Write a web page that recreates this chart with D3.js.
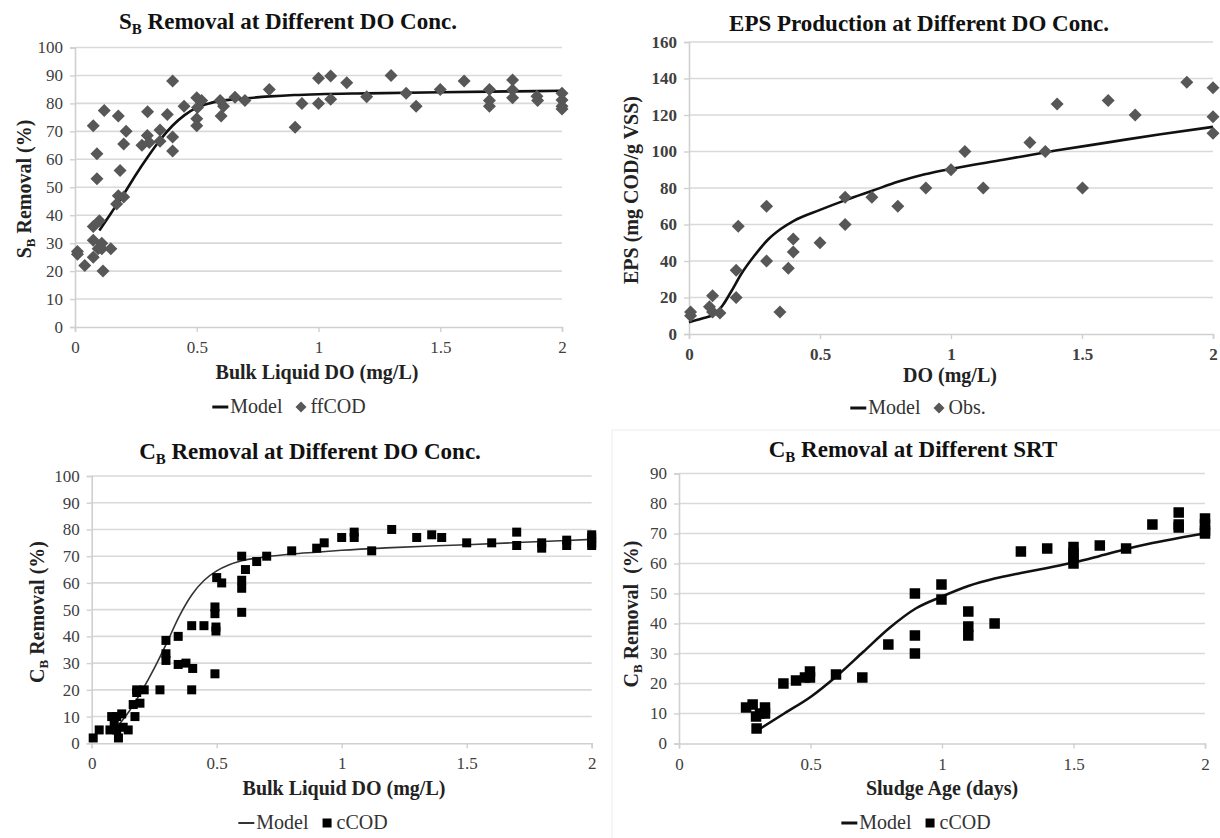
<!DOCTYPE html>
<html>
<head>
<meta charset="utf-8">
<script src="https://cdn.jsdelivr.net/npm/d3@7/dist/d3.min.js"></script>
<style>
  html,body{margin:0;padding:0;background:#fff;}
  svg{display:block;font-family:"Liberation Serif","Times New Roman",serif;}
</style>
</head>
<body>
<svg id="chart" width="1220" height="838"></svg>
<script>
// ---------------- DATA ----------------
const doTicks = [0, 0.5, 1, 1.5, 2];
const doTickLabels = ["0", "0.5", "1", "1.5", "2"];
const removalTicks100 = [0,10,20,30,40,50,60,70,80,90,100];
const epsTicks = [0,20,40,60,80,100,120,140,160];
const removalTicks90 = [0,10,20,30,40,50,60,70,80,90];

// Panel 1: S_B removal vs bulk liquid DO (ffCOD observations)
const sbObs = [
  [0.01,27],[0.01,26],[0.04,22],[0.075,72],[0.09,62],[0.09,53],[0.075,36],[0.1,38],
  [0.075,31],[0.075,25],[0.095,28],[0.11,30],[0.11,28],[0.115,20],[0.12,77.5],[0.147,28],
  [0.178,75.5],[0.185,56],[0.178,47],[0.171,44],[0.2,46.5],[0.21,70],[0.2,65.5],
  [0.275,65],[0.298,77],[0.297,68.5],[0.305,66],[0.349,70.5],[0.349,66.5],[0.379,76],
  [0.401,88],[0.401,68],[0.401,63],[0.448,79],[0.5,82],[0.503,78.5],[0.5,74.5],[0.5,72],
  [0.52,81],[0.596,81],[0.61,79],[0.6,75.5],[0.657,82.2],[0.698,81],[0.798,85],
  [0.904,71.5],[0.932,80],[1.0,89],[1.0,80],[1.05,89.8],[1.05,81.5],[1.116,87.4],
  [1.198,82.4],[1.298,90],[1.36,83.6],[1.401,79],[1.5,85],[1.598,88],[1.702,85],
  [1.702,81],[1.702,79],[1.797,88.4],[1.797,84.8],[1.797,82],[1.897,82.6],[1.9,81],
  [2.0,83.6],[2.0,81.2],[2.0,79],[2.0,78]
];
const sbModel = [
  [0.1,34.5],[0.15,41],[0.2,47.5],[0.25,54.5],[0.3,61],[0.35,67],[0.4,72],[0.45,75.8],
  [0.5,78.5],[0.55,80],[0.6,80.9],[0.7,81.8],[0.8,82.5],[0.9,83],[1.0,83.3],[1.2,83.6],
  [1.5,84],[1.8,84.3],[2.0,84.5]
];

// Panel 2: EPS production vs DO (observations)
const epsObs = [
  [0.006,12],[0.006,10],[0.078,15],[0.09,21],[0.09,12],[0.118,11.5],[0.18,35],[0.18,20],
  [0.188,59],[0.296,70],[0.296,40],[0.347,12],[0.379,36],[0.398,45],[0.398,52],[0.5,50],
  [0.596,60],[0.596,75],[0.698,75],[0.797,70],[0.904,80],[1.0,90],[1.053,100],[1.123,80],
  [1.301,105],[1.36,100],[1.405,126],[1.502,80],[1.6,128],[1.703,120],[1.9,138],
  [2.0,135],[2.0,119],[2.0,110]
];
const epsModel = [
  [0,6.5],[0.05,8.5],[0.1,11],[0.13,16],[0.16,23],[0.2,33],[0.25,43],[0.3,51.5],
  [0.35,57.5],[0.4,62],[0.5,68],[0.6,73.5],[0.7,78.5],[0.8,83.5],[0.9,87.5],[1.0,90.5],
  [1.2,95.5],[1.4,100.5],[1.6,105],[1.8,109.5],[2.0,113.5]
];

// Panel 3: C_B removal vs bulk liquid DO (cCOD observations)
const cbDoObs = [
  [0.006,2],[0.03,5],[0.073,5],[0.08,10],[0.09,8],[0.1,10],[0.1,5],[0.107,2],[0.12,11],
  [0.126,6],[0.146,5],[0.173,10],[0.166,14.5],[0.193,15],[0.18,20],[0.18,19],[0.21,20],
  [0.273,20],[0.297,38.5],[0.297,33.5],[0.297,31],[0.346,40],[0.346,29.5],[0.377,30],
  [0.404,28],[0.4,20],[0.4,44],[0.449,44],[0.493,26],[0.497,43.5],[0.497,42],[0.493,51],
  [0.493,48.5],[0.5,62],[0.52,60],[0.6,70],[0.6,61],[0.6,58],[0.6,49],[0.615,65],
  [0.66,68],[0.7,70],[0.8,72],[0.9,73],[0.93,75],[1.0,77],[1.05,79],[1.05,77],[1.12,72],
  [1.2,80],[1.3,77],[1.36,78],[1.4,77],[1.5,75],[1.6,75],[1.7,79],[1.7,74],[1.8,75],
  [1.8,73],[1.9,76],[1.9,74],[2.0,78],[2.0,77],[2.0,75],[2.0,74]
];
const cbDoModel = [
  [0.1,6],[0.15,12],[0.2,19.5],[0.25,28],[0.3,37.5],[0.35,47.5],[0.4,55.5],[0.45,61],
  [0.5,64.5],[0.55,66.8],[0.6,68.3],[0.7,69.8],[0.8,70.8],[0.9,71.5],[1.0,72.2],
  [1.2,73.2],[1.5,74.3],[1.8,75.5],[2.0,76.3]
];

// Panel 4: C_B removal vs sludge age (cCOD observations)
const cbSrtObs = [
  [0.255,12],[0.28,13],[0.293,9],[0.327,12],[0.327,10],[0.295,5],[0.308,10],[0.397,20],
  [0.445,21],[0.479,22],[0.498,24],[0.498,22],[0.597,23],[0.697,22],[0.796,33],
  [0.897,50],[0.897,36],[0.897,30],[0.998,53],[0.998,48],[1.1,44],[1.1,39],[1.1,36],
  [1.2,40],[1.3,64],[1.4,65],[1.5,65.5],[1.5,63.5],[1.5,62],[1.5,60],[1.6,66],[1.7,65],
  [1.8,73],[1.9,77],[1.9,73],[1.9,72],[2.0,75],[2.0,73],[2.0,71],[2.0,70]
];
const cbSrtModel = [
  [0.31,5],[0.4,10],[0.5,15.5],[0.6,22.5],[0.7,30.5],[0.8,38.5],[0.9,45],[1.0,49],
  [1.1,52.5],[1.2,55],[1.3,56.8],[1.4,58.5],[1.5,60.3],[1.6,62.5],[1.7,64.8],[1.8,66.8],
  [1.9,68.5],[2.0,70]
];

// ---------------- DRAWING ----------------
const svg = d3.select("#chart");
const FONT = '"Liberation Serif","Times New Roman",serif';

// faint panel borders seen in the original composite
svg.append("line").attr("x1",612).attr("x2",612).attr("y1",430).attr("y2",838)
  .attr("stroke","#ececec").attr("stroke-width",1);
svg.append("line").attr("x1",612).attr("x2",1220).attr("y1",430).attr("y2",430)
  .attr("stroke","#ececec").attr("stroke-width",1);

function addSubText(sel, parts, subShift){
  // parts: array of [text, isSub]
  parts.forEach(([t, sub], i) => {
    const ts = sel.append("tspan").text(t);
    if (sub) { ts.attr("font-size","65%").attr("dy", subShift); }
    else if (i > 0 && parts[i-1][1]) { ts.attr("dy", -subShift); }
  });
}

function diamondPath(r){ return `M0,${-r}L${r},0L0,${r}L${-r},0Z`; }

function drawPanel(c){
  const x = d3.scaleLinear().domain([0,2]).range([c.x0, c.x1]);
  const y = d3.scaleLinear().domain([0, c.yMax]).range([c.yBot, c.yTop]);
  const g = svg.append("g");

  // gridlines
  g.append("g").selectAll("line").data(c.yTicks.filter(v => v > 0)).join("line")
    .attr("x1", c.x0).attr("x2", c.x1)
    .attr("y1", d => y(d)).attr("y2", d => y(d))
    .attr("stroke", "#d9d9d9").attr("stroke-width", 1.6);

  // y axis
  const ya = d3.axisLeft(y).tickValues(c.yTicks).tickSize(5).tickPadding(7)
    .tickFormat(d3.format("d"));
  const yg = g.append("g").attr("transform", `translate(${c.x0},0)`).call(ya);
  // x axis
  const xa = d3.axisBottom(x).tickValues(doTicks).tickSize(5).tickPadding(9)
    .tickFormat((d,i) => doTickLabels[i]);
  const xg = g.append("g").attr("transform", `translate(0,${c.yBot})`).call(xa);
  [yg, xg].forEach(a => {
    a.select(".domain").attr("stroke", "#d0d0d0").attr("stroke-width", 1.6);
    a.selectAll(".tick line").attr("stroke", "#d0d0d0").attr("stroke-width", 1.4);
    a.selectAll(".tick text").attr("font-family", FONT).attr("font-size", 17)
      .attr("fill", "#404040").attr("font-weight", c.tickBold ? "bold" : "normal");
  });

  // model line
  const line = d3.line().x(d => x(d[0])).y(d => y(d[1])).curve(d3.curveMonotoneX);
  g.append("path").datum(c.model).attr("d", line)
    .attr("fill", "none").attr("stroke", c.lineColor).attr("stroke-width", c.lineWidth)
    .attr("stroke-linejoin", "round");

  // observations
  if (c.marker === "diamond") {
    g.append("g").selectAll("path").data(c.obs).join("path")
      .attr("d", diamondPath(6.5))
      .attr("transform", d => `translate(${x(d[0])},${y(d[1])})`)
      .attr("fill", c.markerColor);
  } else {
    g.append("g").selectAll("rect").data(c.obs).join("rect")
      .attr("x", d => x(d[0]) - c.sq/2).attr("y", d => y(d[1]) - c.sq/2)
      .attr("width", c.sq).attr("height", c.sq).attr("fill", c.markerColor);
  }

  // title
  const t = g.append("text").attr("x", c.titleX).attr("y", c.titleY)
    .attr("text-anchor", "middle").attr("font-family", FONT).attr("font-weight", "bold")
    .attr("font-size", 23).attr("fill", "#111");
  addSubText(t, c.title, 5);

  // x title
  g.append("text").attr("x", c.xTitleX).attr("y", c.xTitleY).attr("text-anchor", "middle")
    .attr("font-family", FONT).attr("font-weight", "bold").attr("font-size", 20)
    .attr("fill", "#222").text(c.xTitle);

  // y title
  const yt = g.append("text")
    .attr("transform", `translate(${c.yTitleX},${c.yTitleY}) rotate(-90)`)
    .attr("text-anchor", "middle").attr("font-family", FONT).attr("font-weight", "bold")
    .attr("font-size", 20).attr("fill", "#222").attr("xml:space","preserve");
  addSubText(yt, c.yTitle, 4);

  // legend
  const lg = g.append("g");
  const lineLen = 16;
  const ly = c.legY;
  const l1 = lg.append("line").attr("y1", ly - 6).attr("y2", ly - 6)
    .attr("stroke", c.lineColor).attr("stroke-width", c.legLineWidth);
  const tModel = lg.append("text").attr("y", ly).attr("font-family", FONT)
    .attr("font-size", 20).attr("fill", "#333").text("Model");
  const tObs = lg.append("text").attr("y", ly).attr("font-family", FONT)
    .attr("font-size", 20).attr("fill", "#333").text(c.obsLabel);
  const wM = tModel.node().getComputedTextLength();
  const wO = tObs.node().getComputedTextLength();
  const mk = 11, gap1 = 2, gap2 = 13, gap3 = 4;
  const total = lineLen + gap1 + wM + gap2 + mk + gap3 + wO;
  let cx = c.legX - total / 2;
  l1.attr("x1", cx).attr("x2", cx + lineLen);
  cx += lineLen + gap1;
  tModel.attr("x", cx);
  cx += wM + gap2;
  if (c.marker === "diamond") {
    lg.append("path").attr("d", diamondPath(5.5))
      .attr("transform", `translate(${cx + mk/2},${ly - 6})`).attr("fill", c.markerColor);
  } else {
    lg.append("rect").attr("x", cx + 1).attr("y", ly - 6 - 4.5).attr("width", 9).attr("height", 9)
      .attr("fill", c.markerColor);
  }
  cx += mk + gap3;
  tObs.attr("x", cx);
}

drawPanel({
  x0: 75, x1: 562, yBot: 327, yTop: 47.5, yMax: 100, yTicks: removalTicks100,
  obs: sbObs, model: sbModel, marker: "diamond", markerColor: "#575757",
  lineColor: "#111", lineWidth: 2.6, legLineWidth: 3,
  title: [["S", false], ["B", true], [" Removal at Different DO Conc.", false]],
  titleX: 288, titleY: 29,
  xTitle: "Bulk Liquid DO (mg/L)", xTitleX: 317, xTitleY: 379,
  yTitle: [["S", false], ["B", true], [" Removal (%)", false]], yTitleX: 31, yTitleY: 189,
  obsLabel: "ffCOD", legX: 289, legY: 413, tickBold: false
});

drawPanel({
  x0: 689, x1: 1213, yBot: 334, yTop: 42, yMax: 160, yTicks: epsTicks,
  obs: epsObs, model: epsModel, marker: "diamond", markerColor: "#575757",
  lineColor: "#111", lineWidth: 2.6, legLineWidth: 3,
  title: [["EPS Production at Different DO Conc.", false]],
  titleX: 919, titleY: 31,
  xTitle: "DO (mg/L)", xTitleX: 950, xTitleY: 382,
  yTitle: [["EPS (mg COD/g VSS)", false]], yTitleX: 638, yTitleY: 190,
  obsLabel: "Obs.", legX: 918, legY: 414, tickBold: true
});

drawPanel({
  x0: 91.7, x1: 591.7, yBot: 743.3, yTop: 476, yMax: 100, yTicks: removalTicks100,
  obs: cbDoObs, model: cbDoModel, marker: "square", markerColor: "#000", sq: 9,
  lineColor: "#333", lineWidth: 1.6, legLineWidth: 2,
  title: [["C", false], ["B", true], [" Removal at Different DO Conc.", false]],
  titleX: 310, titleY: 459,
  xTitle: "Bulk Liquid DO (mg/L)", xTitleX: 344, xTitleY: 795,
  yTitle: [["C", false], ["B", true], [" Removal (%)", false]], yTitleX: 44, yTitleY: 612,
  obsLabel: "cCOD", legX: 313, legY: 829, tickBold: false
});

drawPanel({
  x0: 679, x1: 1205, yBot: 743.5, yTop: 473.5, yMax: 90, yTicks: removalTicks90,
  obs: cbSrtObs, model: cbSrtModel, marker: "square", markerColor: "#000", sq: 10.5,
  lineColor: "#111", lineWidth: 2.6, legLineWidth: 3,
  title: [["C", false], ["B", true], [" Removal at Different SRT", false]],
  titleX: 913, titleY: 457,
  xTitle: "Sludge Age (days)", xTitleX: 942, xTitleY: 795,
  yTitle: [["C", false], ["B", true], [" Removal  (%)", false]], yTitleX: 638, yTitleY: 614,
  obsLabel: "cCOD", legX: 916, legY: 829, tickBold: false
});
</script>
</body>
</html>
